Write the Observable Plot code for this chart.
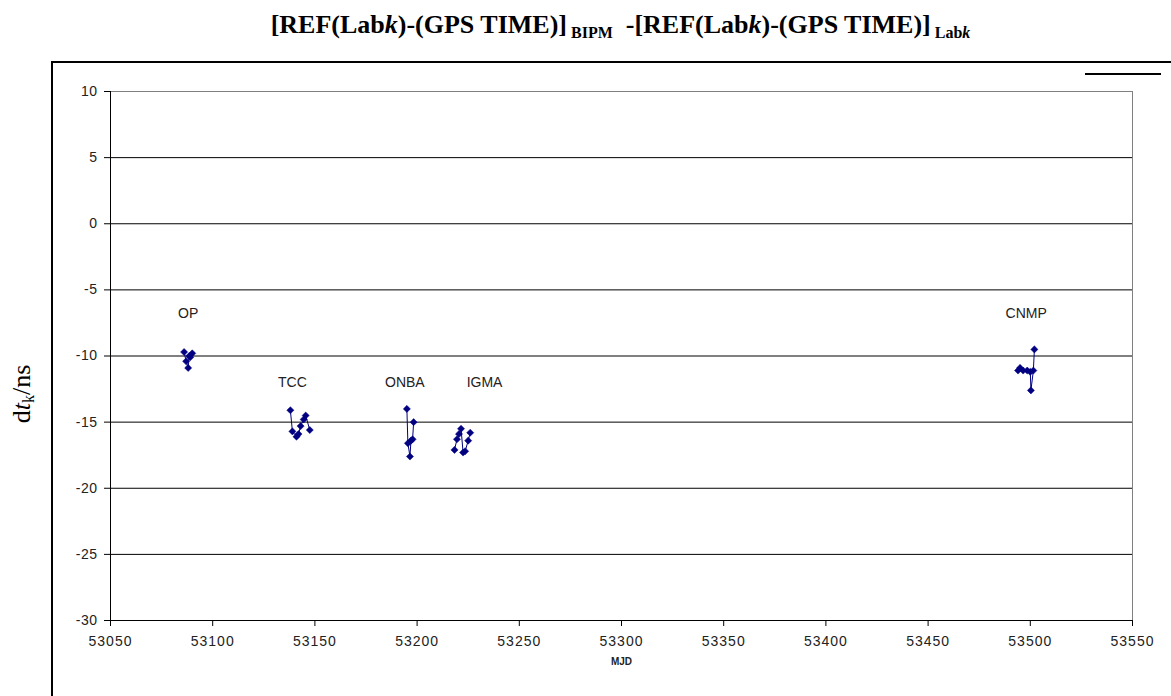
<!DOCTYPE html>
<html>
<head>
<meta charset="utf-8">
<script src="https://cdn.jsdelivr.net/npm/d3@7"></script>
<script src="https://cdn.jsdelivr.net/npm/@observablehq/plot@0.6"></script>
<style>
  html, body { margin: 0; padding: 0; background: #fff; }
  body { width: 1171px; height: 696px; position: relative; overflow: hidden; }
  #title { position: absolute; left: 0; top: 0; width: 1171px; height: 50px; box-sizing: border-box;
    padding-left: 70px; text-align: center; font-family: "Liberation Serif", "Times New Roman", serif;
    font-weight: bold; font-size: 26px; line-height: 50px; color: #000; white-space: nowrap; }
  #title sub { font-size: 16px; vertical-align: -5px; line-height: 0; }
  #chart { position: absolute; left: 0; top: 50px; }
  #frame { position: absolute; left: 51px; top: 61px; width: 1200px; height: 700px;
    border-left: 2px solid #000; border-top: 2px solid #000; }
  #legendbit { position: absolute; left: 1085px; top: 73px; width: 76px; height: 0; border-top: 2px solid #000; }
  #ylabel { position: absolute; left: 22px; top: 394px; transform: translate(-50%, -50%) rotate(-90deg);
    font-family: "Liberation Serif", "Times New Roman", serif; font-size: 26px; white-space: nowrap; color: #000; }
  #ylabel sub { font-size: 16px; vertical-align: -4px; line-height: 0; }
  .dtchart [aria-label="x-axis tick label"] text { letter-spacing: 1px; }
  .dtchart [aria-label="y-axis tick label"] text { letter-spacing: 0.5px; }
</style>
</head>
<body>
<div id="frame"></div>
<div id="legendbit"></div>
<div id="title">[REF(Lab<i>k</i>)-(GPS TIME)]<sub> BIPM</sub>&nbsp; -[REF(Lab<i>k</i>)-(GPS TIME)]<sub> Lab<i>k</i></sub></div>
<div id="ylabel">d<i>t</i><sub>k</sub>/ns</div>
<div id="chart"></div>
<script>
// ---- data ----
const labs = ["OP", "TCC", "ONBA", "IGMA", "CNMP"];

const mjdOP = [53086, 53087, 53088, 53088.5, 53089, 53090];
const dtOP  = [-9.7, -10.4, -10.9, -10.0, -10.1, -9.8];

const mjdTCC = [53138, 53139, 53141, 53142, 53143, 53144.5, 53145.5, 53147.5];
const dtTCC  = [-14.1, -15.7, -16.1, -15.9, -15.3, -14.8, -14.5, -15.6];

const mjdONBA = [53195, 53195.5, 53196.5, 53197, 53197.8, 53198.3];
const dtONBA  = [-14.0, -16.6, -17.6, -16.4, -16.3, -15.0];

const mjdIGMA = [53218.3, 53219.5, 53220.5, 53221.5, 53222.5, 53223.5, 53225, 53226];
const dtIGMA  = [-17.1, -16.3, -15.9, -15.5, -17.3, -17.2, -16.4, -15.8];

const mjdCNMP = [53494, 53495, 53496.5, 53498.5, 53500, 53500.3, 53501.5, 53502];
const dtCNMP  = [-11.1, -10.9, -11.1, -11.1, -11.2, -12.6, -11.1, -9.5];

const labelMJD = [53088, 53139, 53194, 53233, 53498];
const labelDt  = [-6.8, -12.0, -12.0, -12.0, -6.8];

const xTicks = [53050, 53100, 53150, 53200, 53250, 53300, 53350, 53400, 53450, 53500, 53550];
const yTicks = [-30, -25, -20, -15, -10, -5, 0, 5, 10];

// ---- build table ----
const series = {OP: [mjdOP, dtOP], TCC: [mjdTCC, dtTCC], ONBA: [mjdONBA, dtONBA], IGMA: [mjdIGMA, dtIGMA], CNMP: [mjdCNMP, dtCNMP]};
const points = labs.flatMap(lab => series[lab][0].map((m, i) => ({lab, mjd: m, dt: series[lab][1][i]})));
const labels = labs.map((lab, i) => ({lab, mjd: labelMJD[i], dt: labelDt[i]}));

const navy = "#000080";
const font = "Liberation Sans, Arial, sans-serif";

const chart = Plot.plot({
  className: "dtchart",
  width: 1171,
  height: 646,
  marginLeft: 110,
  marginRight: 39,
  marginTop: 41,
  marginBottom: 76,
  style: {fontFamily: font, fontSize: "14px", color: "#222", background: "transparent"},
  x: {domain: [53050, 53550], ticks: xTicks, tickFormat: d => String(d), label: null},
  y: {domain: [-30, 10], ticks: yTicks, tickFormat: d => String(d), label: null},
  marks: [
    Plot.frame({stroke: "#808080"}),
    Plot.gridY(yTicks.filter(v => v > -30 && v < 10), {stroke: "#000", strokeOpacity: 1}),
    Plot.ruleX([53050], {stroke: "#000"}),
    Plot.ruleY([-30], {stroke: "#000"}),
    Plot.axisX({ticks: xTicks, tickFormat: d => String(d), tickSize: 6, tickPadding: 10, stroke: "#000", fill: "#222", fontSize: 14}),
    Plot.axisY({ticks: yTicks, tickFormat: d => String(d), tickSize: 6, tickPadding: 7, stroke: "#000", fill: "#222", fontSize: 14}),
    Plot.line(points, {x: "mjd", y: "dt", z: "lab", stroke: navy, strokeWidth: 1}),
    Plot.dot(points, {x: "mjd", y: "dt", symbol: "diamond2", r: 3.2, fill: navy, stroke: navy, strokeWidth: 0.5}),
    Plot.text(labels, {x: "mjd", y: "dt", text: "lab", fontSize: 14, fill: "#222", fontFamily: font}),
    Plot.text(["MJD"], {frameAnchor: "bottom", dy: 44, text: d => d, fontSize: 10, fontWeight: "bold", fill: "#222", fontFamily: font})
  ]
});
document.getElementById("chart").appendChild(chart);
</script>
</body>
</html>
